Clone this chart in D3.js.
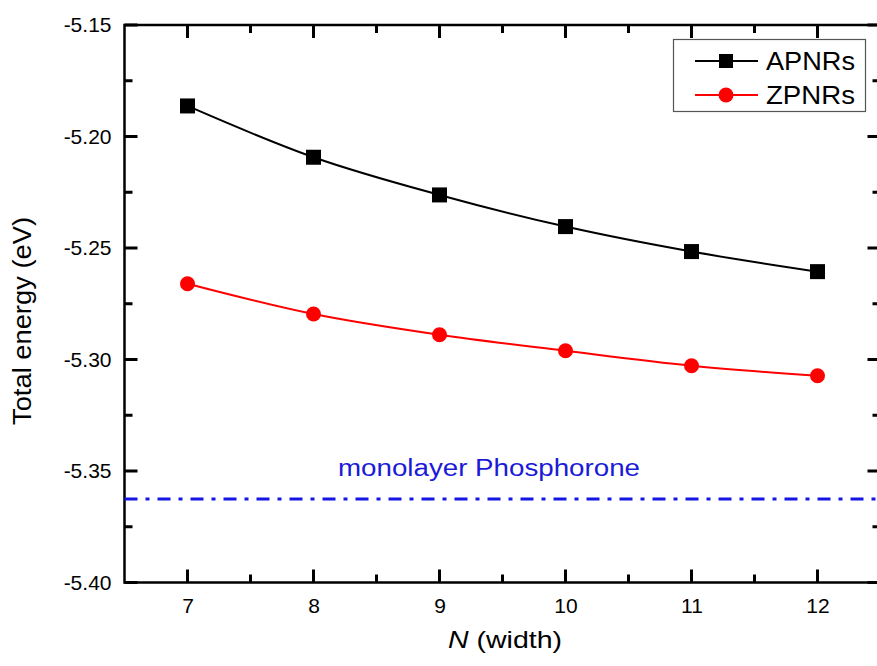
<!DOCTYPE html>
<html><head><meta charset="utf-8">
<script src="https://cdn.jsdelivr.net/npm/d3@7"></script>
<style>body{margin:0;background:#fff}svg{display:block}text{font-family:Arial,"Liberation Sans",sans-serif}</style>
</head><body><svg id="c" width="877" height="666"></svg>
<script>
const widths = [7, 8, 9, 10, 11, 12];
const apnrs = [-5.1863, -5.2093, -5.2262, -5.2404, -5.2516, -5.2606];
const zpnrs = [-5.2660, -5.2796, -5.2889, -5.2961, -5.3028, -5.3073];
const monolayer = -5.3625;
const xTicks = [7, 8, 9, 10, 11, 12];
const yTicks = [-5.15, -5.20, -5.25, -5.30, -5.35, -5.40];
const yTickLabels = ["-5.15", "-5.20", "-5.25", "-5.30", "-5.35", "-5.40"];
const seriesNames = ["APNRs", "ZPNRs"];

const svg = d3.select("#c");
const L = 124.5, R = 880.5, T = 25, B = 582.5;
const x = d3.scaleLinear().domain([6.5, 12.5]).range([L, R]);
const y = d3.scaleLinear().domain([-5.40, -5.15]).range([B, T]);

const xMinor = [7.5, 8.5, 9.5, 10.5, 11.5];
const yMinor = [-5.175, -5.225, -5.275, -5.325, -5.375];

function styleAxis(g){ g.select(".domain").remove(); g.selectAll("line").remove(); g.selectAll("text").attr("fill","#000").attr("font-size",21); }
svg.append("g").attr("transform",`translate(0,${B})`).call(d3.axisBottom(x).tickValues(xTicks).tickSize(0).tickPadding(16).tickFormat(d3.format("d"))).call(styleAxis);
svg.append("g").attr("transform",`translate(${L},0)`).call(d3.axisLeft(y).tickValues(yTicks).tickSize(0).tickPadding(13).tickFormat((d,i)=>yTickLabels[i])).call(styleAxis);

const TK = 13, TM = 8, TW = 3;
const tk = svg.append("g").attr("class","ticks");
xTicks.forEach(v=>{ const px = x(v);
  tk.append("rect").attr("x",px-TW/2).attr("y",B-TK).attr("width",TW).attr("height",TK).attr("fill","#000");
  tk.append("rect").attr("x",px-TW/2).attr("y",T).attr("width",TW).attr("height",TK).attr("fill","#000"); });
xMinor.forEach(v=>{ const px = x(v);
  tk.append("rect").attr("x",px-TW/2).attr("y",B-TM).attr("width",TW).attr("height",TM).attr("fill","#000");
  tk.append("rect").attr("x",px-TW/2).attr("y",T).attr("width",TW).attr("height",TM).attr("fill","#000"); });
yTicks.forEach(v=>{ const py = y(v);
  tk.append("rect").attr("x",L).attr("y",py-TW/2).attr("width",TK).attr("height",TW).attr("fill","#000");
  tk.append("rect").attr("x",R-TK).attr("y",py-TW/2).attr("width",TK).attr("height",TW).attr("fill","#000"); });
yMinor.forEach(v=>{ const py = y(v);
  tk.append("rect").attr("x",L).attr("y",py-TW/2).attr("width",TM).attr("height",TW).attr("fill","#000");
  tk.append("rect").attr("x",R-TM).attr("y",py-TW/2).attr("width",TM).attr("height",TW).attr("fill","#000"); });

svg.append("rect").attr("x",L).attr("y",T).attr("width",R-L).attr("height",B-T).attr("fill","none").attr("stroke","#000").attr("stroke-width",2.5);

svg.append("line").attr("x1",L).attr("x2",R).attr("y1",y(monolayer)).attr("y2",y(monolayer))
  .attr("stroke","#1515e6").attr("stroke-width",3).attr("stroke-dasharray","13,8,4,8");
svg.append("text").attr("x",338).attr("y",y(monolayer)-23).attr("fill","#1a1ad8").attr("font-size",23)
  .attr("textLength",302).attr("lengthAdjust","spacingAndGlyphs").text("monolayer Phosphorone");

const line = d3.line().x((d,i)=>x(widths[i])).y(d=>y(d)).curve(d3.curveMonotoneX);
svg.append("path").datum(apnrs).attr("d",line).attr("fill","none").attr("stroke","#000").attr("stroke-width",2);
svg.append("path").datum(zpnrs).attr("d",line).attr("fill","none").attr("stroke","#f00").attr("stroke-width",2);
svg.selectAll(".sq").data(apnrs).enter().append("rect").attr("x",(d,i)=>x(widths[i])-7.5).attr("y",d=>y(d)-7.5).attr("width",15).attr("height",15).attr("fill","#000");
svg.selectAll(".ci").data(zpnrs).enter().append("circle").attr("cx",(d,i)=>x(widths[i])).attr("cy",d=>y(d)).attr("r",7.5).attr("fill","#f00");

const lg = svg.append("g");
lg.append("rect").attr("x",673.5).attr("y",39.5).attr("width",192).attr("height",72).attr("fill","#fff").attr("stroke","#555").attr("stroke-width",1.2);
const colors = ["#000","#f00"];
seriesNames.forEach((n,i)=>{
  const cy = 61 + i*34;
  lg.append("line").attr("x1",695).attr("x2",758).attr("y1",cy).attr("y2",cy).attr("stroke",colors[i]).attr("stroke-width",2);
  if(i===0) lg.append("rect").attr("x",719).attr("y",cy-7).attr("width",14).attr("height",14).attr("fill","#000");
  else lg.append("circle").attr("cx",726).attr("cy",cy).attr("r",7.5).attr("fill","#f00");
  lg.append("text").attr("x",766).attr("y",cy+9).attr("font-size",25).attr("fill","#000")
    .attr("textLength",89).attr("lengthAdjust","spacingAndGlyphs").text(n);
});

const xtt = svg.append("text").attr("x",448).attr("y",648).attr("font-size",24).attr("fill","#000")
  .attr("textLength",114).attr("lengthAdjust","spacingAndGlyphs");
xtt.append("tspan").attr("font-style","italic").text("N");
xtt.append("tspan").text(" (width)");
svg.append("text").attr("transform","translate(31,321) rotate(-90)").attr("text-anchor","middle").attr("font-size",25).attr("fill","#000")
  .attr("textLength",208).attr("lengthAdjust","spacingAndGlyphs").text("Total energy (eV)");
</script></body></html>
